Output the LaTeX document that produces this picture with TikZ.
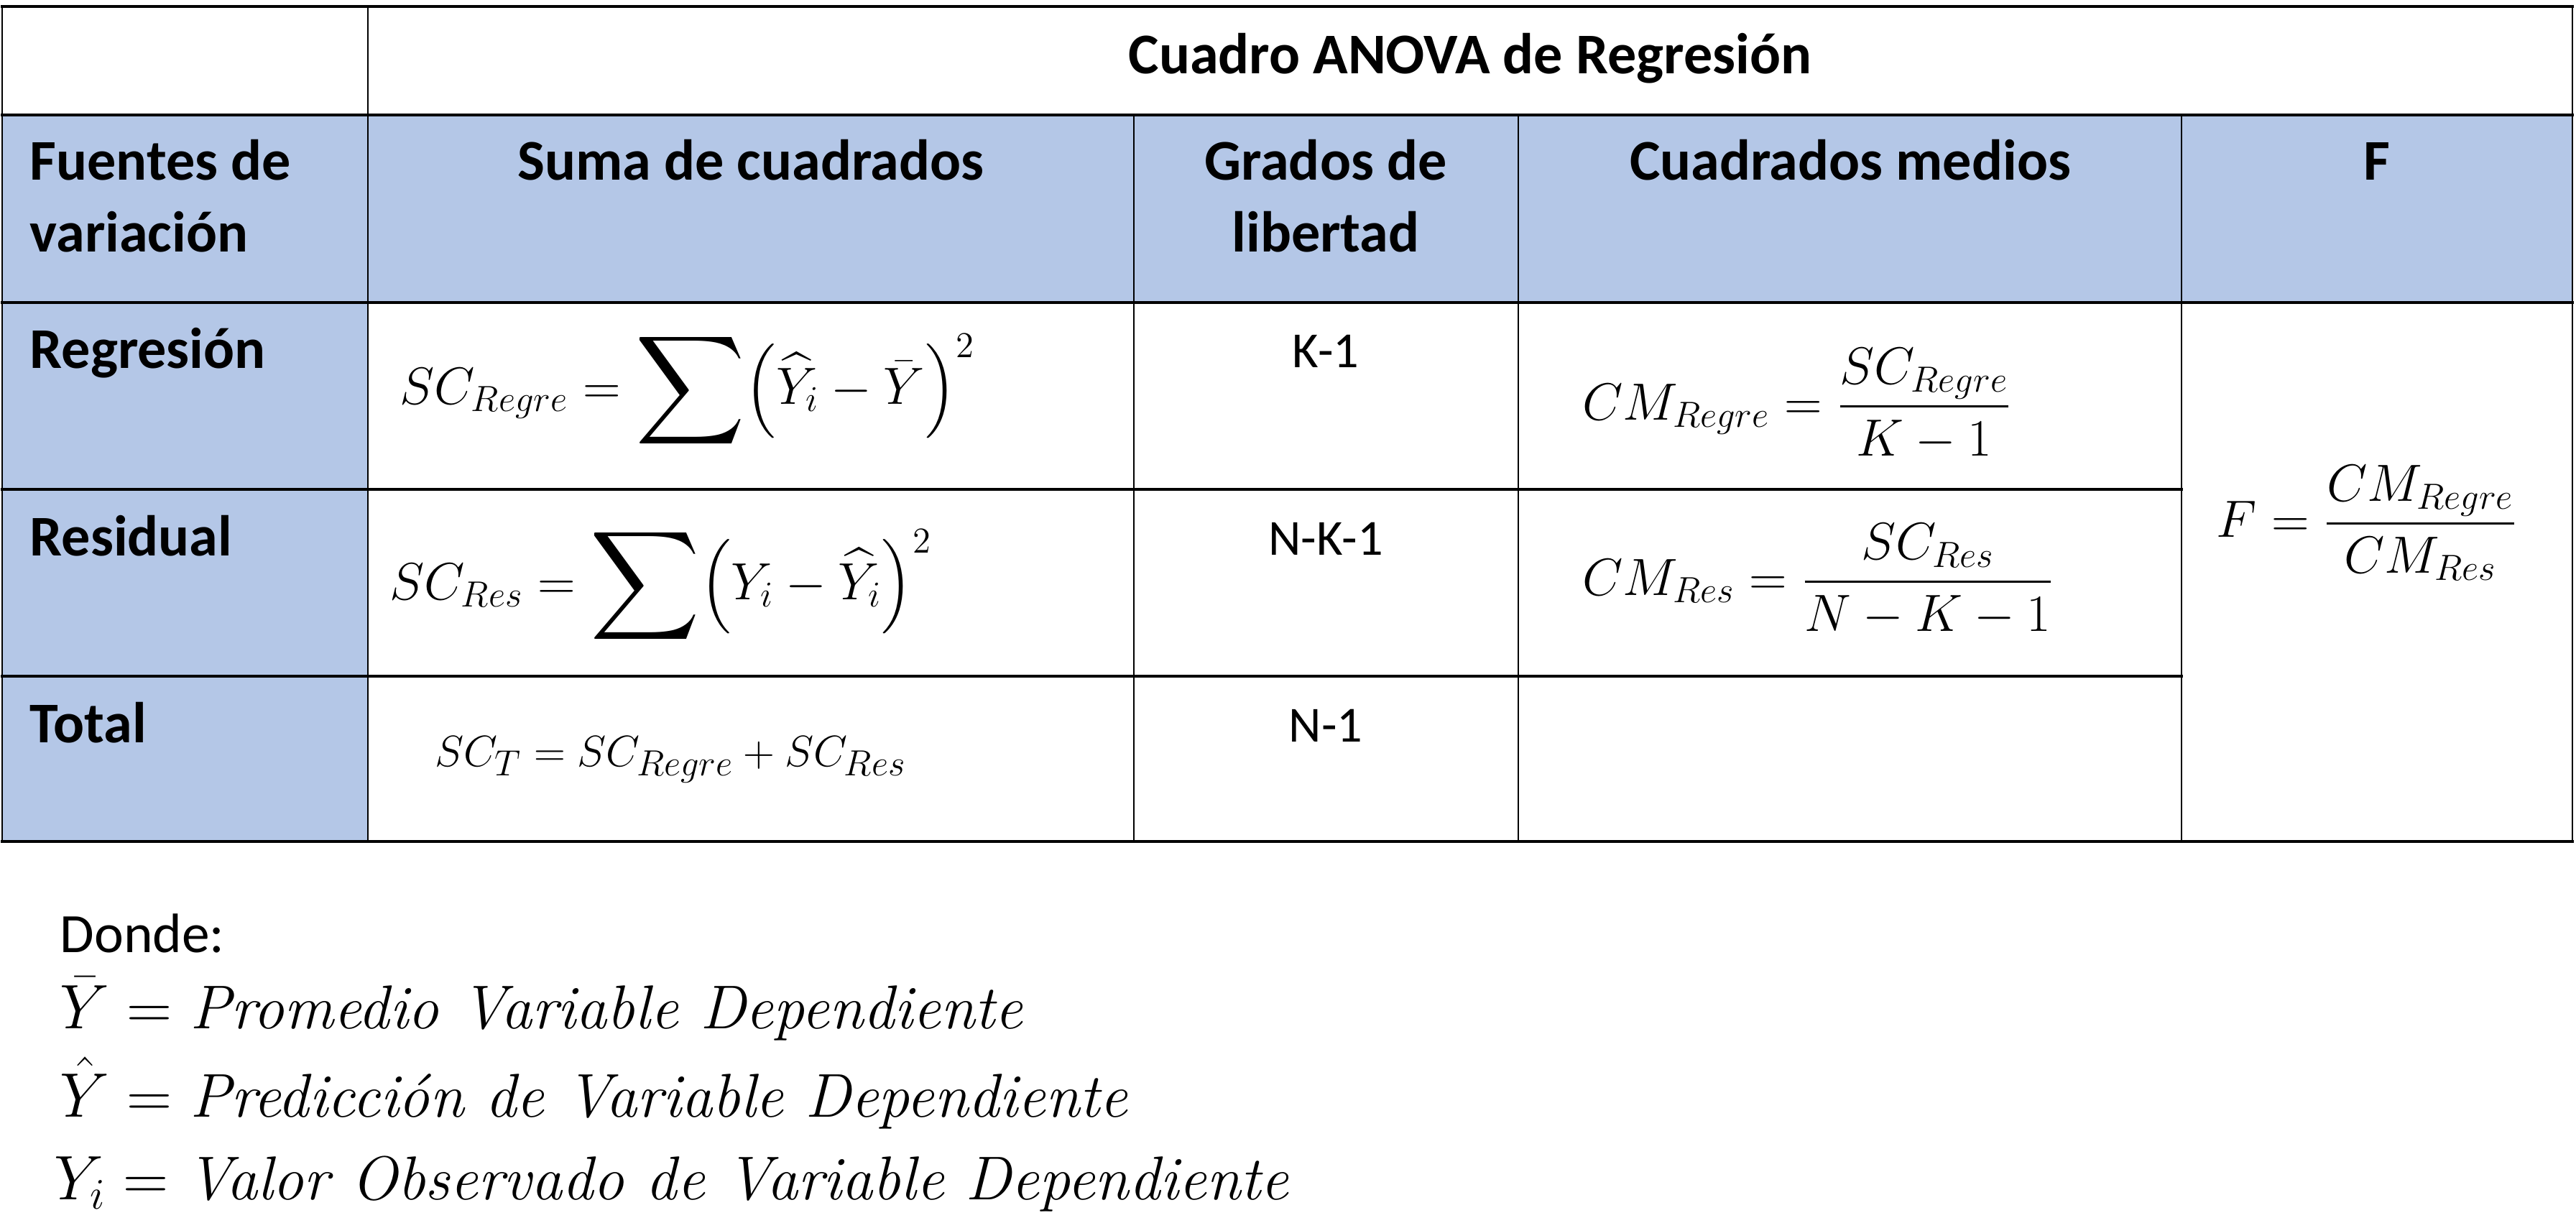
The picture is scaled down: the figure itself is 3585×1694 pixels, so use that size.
\documentclass[tikz,border=0pt]{standalone}
\usepackage{amsmath}
\usepackage{graphicx}
\usepackage{fontspec}
\setmainfont{Carlito}
\newfontfamily\mates{Latin Modern Roman}
\usetikzlibrary{positioning}
\definecolor{cabecera}{HTML}{B4C7E7}
\newcommand{\sumagrande}{\mathop{\vcenter{\hbox{\scalebox{1.45}{$\displaystyle\sum$}}}}\nolimits}

\begin{document}
\begin{tikzpicture}[x=0.01cm,y=-0.01cm,
    hline/.style={line width=1.3pt,line cap=rect},
    vline/.style={line width=0.75pt},
    cabeza/.style={inner sep=0pt,font=\fontsize{22.8}{28.2}\selectfont\bfseries,align=center},
    gl/.style={inner sep=0pt,font=\fontsize{20}{24}\selectfont,anchor=base},
    formula/.style={inner sep=0pt,font=\fontsize{22}{27}\selectfont,anchor=base west},
    nota/.style={inner sep=0pt,font=\fontsize{24.5}{29}\selectfont,anchor=base west}]
    \useasboundingbox (0,0) rectangle (3585,1694);
    % celdas azules
    \fill[cabecera] (3,160) rectangle (3580,421);
    \fill[cabecera] (3,421) rectangle (512,1171);
    % rejilla
    \foreach \y/\xf in {9/3580,160/3580,421/3580,681/3036,941/3036,1171/3580}
        \draw[hline] (3,\y) -- (\xf,\y);
    \foreach \x/\ya in {3/9,512/9,1578/160,2113/160,3036/160,3580/9}
        \draw[vline] (\x,\ya) -- (\x,1171);

    % encabezados
    \node[cabeza,anchor=base] (titulo) at (2046,103) {Cuadro ANOVA de Regresión};
    \node[cabeza,anchor=base west,align=left] (fuentes) at (41,350) {Fuentes de\\variación};
    \node[cabeza,anchor=base] (suma) at (1045,251) {Suma de cuadrados};
    \node[cabeza,anchor=base] (grados) at (1845,350) {Grados de\\libertad};
    \node[cabeza,anchor=base] (medios) at (2575,251) {Cuadrados medios};
    \node[cabeza,anchor=base] (efe) at (3308,251) {F};

    \node[cabeza,anchor=base west] (regresion) at (41,512) {Regresión};
    \node[cabeza,anchor=base west] (residual) at (41,773) {Residual};
    \node[cabeza,anchor=base west] (total) at (41,1033) {Total};

    \node[gl] (glRegre) at (1845,511) {K-1};
    \node[gl] (glRes) at (1845,772) {N-K-1};
    \node[gl] (glT) at (1845,1032) {N-1};

    % formulas
    \node[formula] (scRegre) at (556,562)
        {$\displaystyle SC_{Regre}=\sumagrande\!\left(\widehat{Y}_i-\bar{Y}\right)^2$};
    \node[formula] (scRes) at (542,834)
        {$\displaystyle SC_{Res}=\sumagrande\!\left(Y_i-\widehat{Y}_i\right)^2$};
    \node[formula,font=\fontsize{19}{24}\selectfont] (scT) at (605,1066)
        {$SC_T=SC_{Regre}+SC_{Res}$};
    \node[formula] (cmRegre) at (2202,584) {$CM_{Regre}=\dfrac{SC_{Regre}}{K-1}$};
    \node[formula,font=\fontsize{21}{26}\selectfont] (cmRes) at (2202,828) {$CM_{Res}=\dfrac{SC_{Res}}{N-K-1}$};
    \node[formula] (fRatio) at (3084,747) {$F=\dfrac{CM_{Regre}}{CM_{Res}}$};

    % notas
    \node[nota,font=\fontsize{22}{27}\selectfont] (donde) at (83,1325) {Donde:};
    \node[nota] (promedio) at (83,1431)
        {$\bar{Y}=\text{\mates\itshape Promedio Variable Dependiente}$};
    \node[nota] (prediccion) at (83,1554)
        {$\hat{Y}=\text{\mates\itshape Predicción de Variable Dependiente}$};
    \node[nota] (observado) at (75,1669)
        {$Y_i=\text{\mates\itshape Valor Observado de Variable Dependiente}$};
\end{tikzpicture}
\end{document}
